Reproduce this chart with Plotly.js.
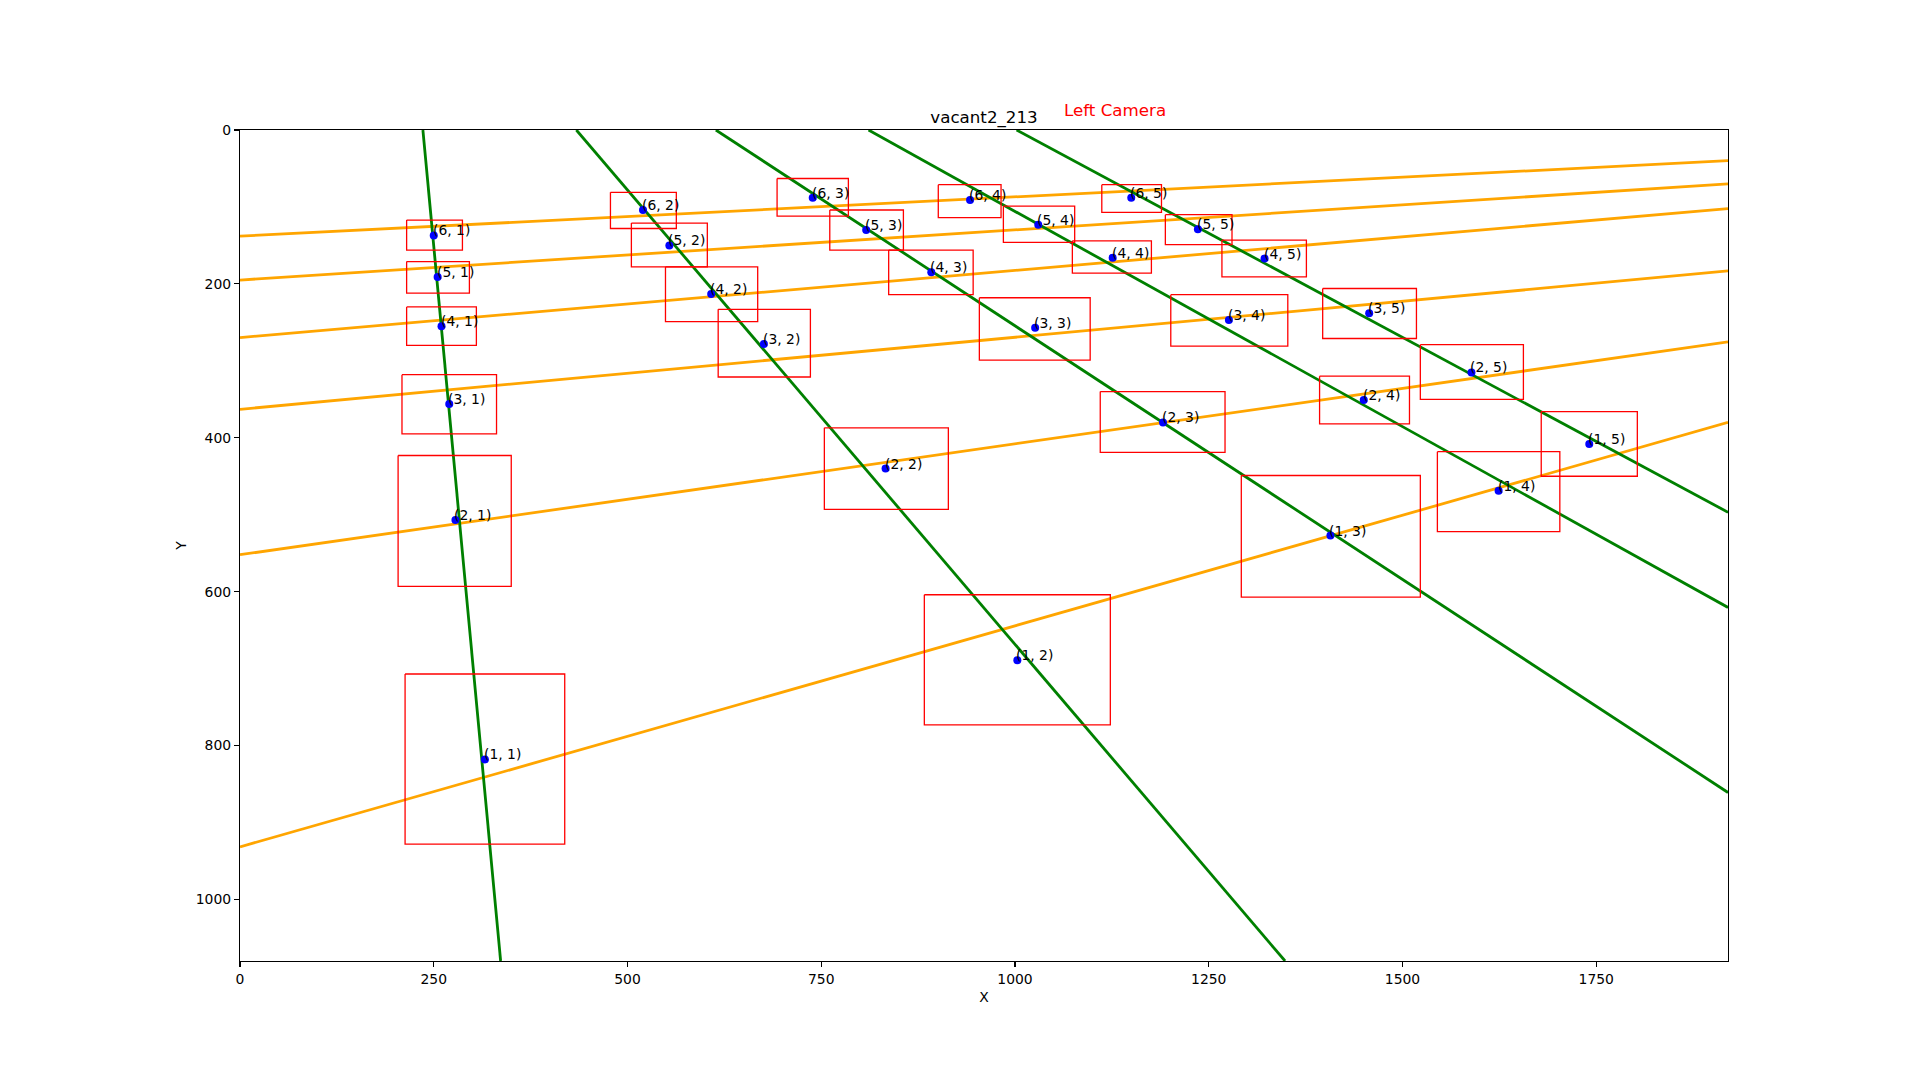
<!DOCTYPE html>
<html>
<head>
<meta charset="utf-8">
<script src="https://cdn.plot.ly/plotly-3.0.1.min.js"></script>
<style>html,body{margin:0;padding:0;background:#fff;}#chart{width:1920px;height:1080px;}</style>
</head>
<body>
<div id="chart"></div>
<script>
// Grid point labels (row, col)
const pointRows = [1,2,3,4,5,6, 1,2,3,4,5,6, 1,2,3,4,5,6, 1,2,3,4,5,6, 1,2,3,4,5,6];
const pointCols = [1,1,1,1,1,1, 2,2,2,2,2,2, 3,3,3,3,3,3, 4,4,4,4,4,4, 5,5,5,5,5,5];
// Detected centre points
const pointX = [316, 278, 270, 260, 255, 250,
                1003, 833, 676, 608, 554, 520,
                1407, 1191, 1026, 892, 808, 739,
                1624, 1450, 1276, 1126, 1030, 942,
                1741, 1589, 1457, 1322, 1236, 1150];
const pointY = [818, 507, 356, 255, 191, 137,
                689, 440, 278, 213, 150, 104,
                527, 380, 257, 185, 130, 88,
                469, 351, 247, 166, 123, 91,
                408, 315, 238, 167, 129, 88];
// Bounding boxes
const boxX0 = [213, 204, 209, 215, 215, 215,
               883, 754, 617, 549, 505, 478,
               1292, 1110, 954, 837, 761, 693,
               1545, 1393, 1201, 1074, 985, 901,
               1679, 1523, 1397, 1267, 1194, 1112];
const boxX1 = [419, 350, 331, 305, 296, 287,
               1123, 914, 736, 668, 603, 563,
               1523, 1271, 1097, 946, 856, 785,
               1703, 1509, 1352, 1176, 1077, 982,
               1803, 1656, 1518, 1376, 1280, 1189];
const boxY0 = [707, 423, 318, 230, 171, 117,
               604, 387, 233, 178, 121, 81,
               449, 340, 218, 156, 104, 63,
               418, 320, 214, 144, 99, 71,
               366, 279, 206, 143, 110, 71];
const boxY1 = [928, 593, 395, 280, 212, 156,
               773, 493, 321, 249, 178, 128,
               607, 419, 299, 214, 156, 112,
               522, 382, 281, 186, 146, 114,
               450, 350, 271, 191, 149, 107];
// Row lines (orange): y at x = rowLineXStart and at x = rowLineXEnd
const rowLineXStart = 0, rowLineXEnd = 1920;
const rowLineYStart = [931.7, 552, 363, 269.8, 195, 138];
const rowLineYEnd   = [380, 275.3, 183.2, 102.1, 69.9, 39.9];
// Column lines (green): endpoints
const colLineX0 = [236, 434, 614, 811, 1002];
const colLineY0 = [0, 0, 0, 0, 0];
const colLineX1 = [336.3, 1348.5, 1920, 1920, 1920];
const colLineY1 = [1080, 1080, 861, 620.5, 496.8];

const xTicks = [0, 250, 500, 750, 1000, 1250, 1500, 1750];
const yTicks = [0, 200, 400, 600, 800, 1000];

const traces = [];
// orange lines
for (let i = 0; i < rowLineYStart.length; i++) {
  traces.push({type:'scatter', mode:'lines', x:[rowLineXStart, rowLineXEnd], y:[rowLineYStart[i], rowLineYEnd[i]],
    line:{color:'#FFA500', width:2.8}, hoverinfo:'skip', showlegend:false});
}
// green lines
for (let i = 0; i < colLineX0.length; i++) {
  traces.push({type:'scatter', mode:'lines', x:[colLineX0[i], colLineX1[i]], y:[colLineY0[i], colLineY1[i]],
    line:{color:'#008000', width:2.8}, hoverinfo:'skip', showlegend:false});
}
// boxes
const bx = [], by = [];
for (let i = 0; i < boxX0.length; i++) {
  bx.push(boxX0[i], boxX1[i], boxX1[i], boxX0[i], boxX0[i], null);
  by.push(boxY0[i], boxY0[i], boxY1[i], boxY1[i], boxY0[i], null);
}
traces.push({type:'scatter', mode:'lines', x:bx, y:by, line:{color:'#FF0000', width:1.3}, hoverinfo:'skip', showlegend:false, connectgaps:false});
// points
traces.push({type:'scatter', mode:'markers', x:pointX, y:pointY, marker:{color:'#0000FF', size:8}, showlegend:false});

const annotations = pointX.map((x, i) => ({
  x: x, y: pointY[i], xref:'x', yref:'y', text:'(' + pointRows[i] + ', ' + pointCols[i] + ')',
  showarrow:false, xanchor:'left', yanchor:'bottom', xshift:-3, yshift:-5,
  font:{family:'DejaVu Sans', size:13.9, color:'#000'}
}));
annotations.push({x:0.5524, y:1.0245, xref:'paper', yref:'paper', text:'Left Camera', showarrow:false,
  xanchor:'left', yanchor:'middle', font:{family:'DejaVu Sans', size:16.7, color:'#FF0000'}});

const layout = {
  width:1920, height:1080,
  margin:{l:240, r:192, t:130, b:119, pad:0},
  paper_bgcolor:'#fff', plot_bgcolor:'#fff',
  font:{family:'DejaVu Sans', size:13.9, color:'#000'},
  title:{text:'vacant2_213', x:0.5, xref:'paper', y:1, yref:'paper', yanchor:'bottom', pad:{b:7},
    font:{family:'DejaVu Sans', size:16.7, color:'#000'}},
  xaxis:{range:[0,1920], tickvals:xTicks, ticks:'outside', ticklen:5, tickwidth:1.1, tickcolor:'#000',
    showline:true, linecolor:'#000', linewidth:1.1, mirror:true, showgrid:false, zeroline:false,
    title:{text:'X', font:{family:'DejaVu Sans', size:13.9}, standoff:6},
    tickfont:{family:'DejaVu Sans', size:13.9}},
  yaxis:{range:[1080,0], tickvals:yTicks, ticks:'outside', ticklen:5, tickwidth:1.1, tickcolor:'#000',
    showline:true, linecolor:'#000', linewidth:1.1, mirror:true, showgrid:false, zeroline:false,
    title:{text:'Y', font:{family:'DejaVu Sans', size:13.9}, standoff:5},
    tickfont:{family:'DejaVu Sans', size:13.9}},
  annotations: annotations
};
Plotly.newPlot('chart', traces, layout, {displayModeBar:false, staticPlot:true});
</script>
</body>
</html>
